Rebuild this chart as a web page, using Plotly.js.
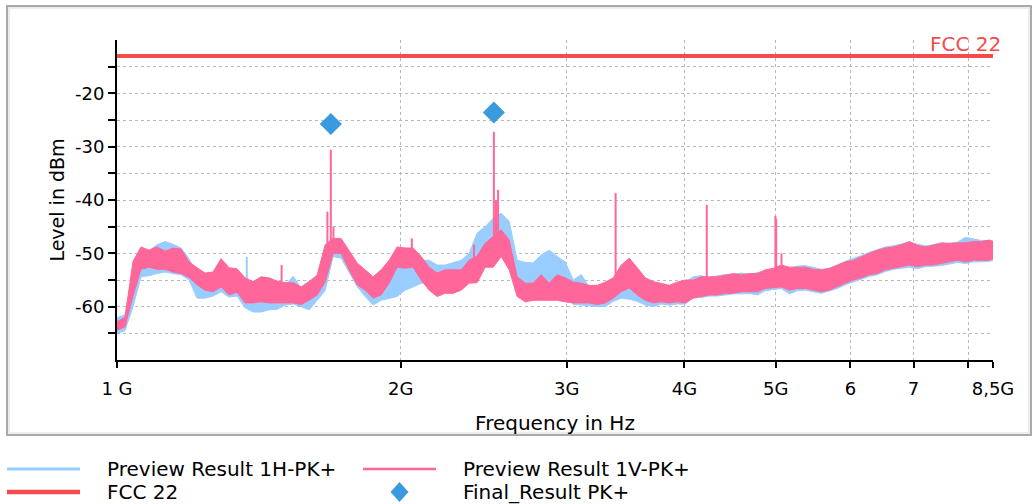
<!DOCTYPE html>
<html><head><meta charset="utf-8">
<script src="https://cdn.plot.ly/plotly-3.0.1.min.js"></script>
<style>html,body{margin:0;padding:0;background:#fff;overflow:hidden}#chart{width:1032px;height:504px}</style>
</head><body><div id="chart"></div>
<script>
// ---------- data (frequency in GHz, level in dBm) ----------
const freqGHz = [
1.0000,1.0197,1.0399,1.0604,1.0814,1.1027,1.1245,1.1467,1.1694,1.1925,
1.2160,1.2400,1.2645,1.2895,1.3150,1.3409,1.3674,1.3944,1.4219,1.4500,
1.4786,1.5078,1.5376,1.5680,1.5989,1.6305,1.6627,1.6955,1.7290,1.7631,
1.7979,1.8334,1.8696,1.9065,1.9442,1.9826,2.0217,2.0616,2.1023,2.1438,
2.1862,2.2293,2.2733,2.3182,2.3640,2.4107,2.4583,2.5068,2.5563,2.6068,
2.6583,2.7108,2.7643,2.8189,2.8745,2.9313,2.9892,3.0482,3.1084,3.1698,
3.2324,3.2962,3.3613,3.4277,3.4954,3.5644,3.6348,3.7065,3.7797,3.8544,
3.9305,4.0081,4.0872,4.1679,4.2502,4.3342,4.4198,4.5070,4.5960,4.6868,
4.7793,4.8737,4.9699,5.0680,5.1681,5.2702,5.3742,5.4804,5.5886,5.6989,
5.8114,5.9262,6.0432,6.1626,6.2843,6.4084,6.5349,6.6639,6.7955,6.9297,
7.0665,7.2061,7.3484,7.4935,7.6414,7.7923,7.9462,8.1031,8.2631,8.4263,
8.5000];

// Preview Result 1H-PK+ (min / max of the trace)
const hLow = [
-65.0,-64.5,-60.0,-54.4,-54.2,-53.8,-53.5,-53.8,-54.0,-55.0,
-58.4,-58.4,-58.0,-57.2,-58.2,-58.0,-60.2,-61.0,-61.0,-60.6,
-60.5,-59.7,-59.5,-60.0,-60.6,-58.8,-57.0,-50.6,-50.9,-53.5,
-56.2,-58.1,-59.7,-58.8,-58.4,-58.1,-56.9,-56.3,-55.6,-55.6,
-55.4,-55.0,-54.9,-54.4,-53.8,-52.6,-49.4,-49.4,-50.0,-49.4,
-57.5,-57.5,-57.0,-56.5,-56.5,-57.0,-57.5,-59.6,-59.7,-59.8,
-60.0,-60.0,-59.0,-58.4,-58.6,-59.0,-59.7,-60.0,-59.5,-59.7,
-59.5,-59.5,-58.1,-58.3,-58.0,-58.0,-57.8,-57.6,-57.6,-57.5,
-57.8,-57.0,-56.8,-56.6,-57.6,-57.0,-56.9,-57.2,-57.5,-57.0,
-56.6,-55.9,-55.4,-54.8,-54.3,-54.0,-53.4,-53.0,-52.8,-52.6,
-52.9,-52.5,-52.4,-52.3,-52.0,-51.7,-51.9,-51.6,-51.6,-51.5,
-51.4];
const hHigh = [
-62.1,-61.5,-53.5,-50.0,-49.5,-48.4,-47.8,-48.3,-49.0,-51.0,
-53.8,-55.0,-54.8,-54.5,-54.0,-54.8,-55.0,-56.0,-56.5,-56.0,
-56.2,-56.0,-54.3,-56.5,-56.0,-55.0,-49.5,-48.5,-48.1,-50.0,
-52.5,-54.4,-55.6,-55.0,-54.4,-52.4,-52.3,-52.0,-51.3,-51.3,
-52.2,-52.2,-51.8,-51.3,-50.0,-46.2,-45.0,-43.4,-42.5,-44.0,
-51.3,-51.7,-51.8,-50.3,-49.4,-50.6,-51.6,-55.0,-54.0,-56.3,
-56.5,-56.2,-55.5,-55.0,-55.2,-55.5,-55.4,-56.0,-56.0,-56.3,
-55.8,-55.4,-54.4,-54.2,-54.6,-54.2,-54.0,-54.0,-53.7,-54.0,
-53.6,-53.4,-53.0,-52.6,-52.8,-52.4,-52.3,-52.6,-53.0,-52.9,
-52.3,-51.5,-51.0,-50.4,-49.8,-49.3,-48.8,-48.6,-48.2,-47.9,
-48.3,-48.6,-48.4,-48.0,-48.2,-47.9,-47.0,-47.3,-47.6,-47.6,
-47.7];

// Preview Result 1V-PK+ (min / max of the trace)
const vLow = [
-64.4,-63.8,-58.0,-53.0,-52.6,-53.0,-53.0,-53.5,-53.8,-54.5,
-55.9,-56.9,-57.2,-56.3,-57.8,-57.3,-59.3,-59.3,-59.1,-59.3,
-59.3,-59.3,-59.3,-59.6,-58.8,-57.8,-55.4,-50.0,-50.0,-53.1,
-55.9,-56.9,-58.4,-57.8,-55.6,-52.6,-52.8,-52.6,-55.0,-56.9,
-58.1,-57.5,-57.5,-56.9,-55.6,-55.5,-52.6,-52.6,-50.6,-53.1,
-58.1,-59.1,-58.8,-58.8,-58.8,-58.8,-59.1,-59.3,-59.3,-59.3,
-59.6,-59.3,-58.4,-57.2,-56.5,-57.8,-58.8,-59.3,-59.1,-59.3,
-59.1,-59.3,-58.4,-58.1,-57.8,-57.8,-57.5,-57.5,-57.2,-57.2,
-57.2,-56.6,-56.5,-56.3,-56.9,-56.6,-56.6,-56.9,-57.2,-56.9,
-56.3,-55.6,-55.0,-54.6,-54.0,-53.8,-53.1,-52.8,-52.5,-52.2,
-52.5,-52.2,-52.2,-51.9,-51.6,-51.3,-51.6,-51.3,-51.3,-51.3,
-51.0];
const vHigh = [
-62.8,-62.0,-51.5,-48.8,-49.4,-48.8,-49.6,-49.0,-49.2,-51.6,
-52.7,-53.7,-53.5,-51.0,-52.7,-52.9,-54.6,-55.3,-54.4,-54.6,
-55.2,-55.5,-55.5,-56.3,-55.3,-54.1,-48.4,-47.2,-47.2,-49.4,
-51.8,-53.1,-54.4,-53.1,-51.3,-48.8,-49.0,-49.0,-50.6,-52.6,
-53.7,-53.1,-53.1,-53.1,-51.3,-50.5,-48.1,-46.9,-45.6,-47.5,
-54.4,-55.6,-55.6,-54.0,-55.6,-54.0,-54.6,-55.4,-55.6,-56.0,
-56.0,-55.4,-54.6,-52.2,-50.9,-52.7,-54.6,-55.3,-55.6,-56.0,
-55.4,-55.0,-55.0,-54.4,-54.4,-54.4,-54.1,-53.8,-54.0,-53.8,
-53.8,-53.1,-52.8,-52.2,-52.6,-52.6,-52.6,-53.0,-53.1,-52.8,
-52.2,-51.6,-51.3,-50.6,-50.0,-49.4,-49.0,-48.8,-48.4,-47.8,
-48.5,-48.8,-48.5,-48.1,-48.1,-48.1,-48.0,-47.8,-47.8,-47.5,
-47.8];

// narrow spikes
const hSpikeFreq = [1.373];
const hSpikeBase = [-56.0];
const hSpikePeak = [-50.7];
const vSpikeFreq = [1.495, 1.672, 1.686, 1.697, 2.055, 2.392, 2.511, 2.524, 2.537, 3.381, 4.224, 4.995, 5.005, 5.070];
const vSpikeBase = [-56.0, -49.0, -48.0, -48.0, -50.0, -53.0, -47.0, -47.0, -47.0, -55.0, -55.0, -53.0, -53.0, -53.0];
const vSpikePeak = [-52.2, -42.2, -30.6, -45.0, -47.2, -48.4, -27.2, -40.0, -38.1, -38.7, -40.9, -43.0, -43.5, -50.0];

// limit line
const fccFreq = [1.0, 8.5];
const fccLimit = -13;
const fccName = 'FCC 22';

// final results
const finalFreq = [1.686, 2.511];
const finalLevel = [-25.75, -23.6];

// series names
const nameH = 'Preview Result 1H-PK+';
const nameV = 'Preview Result 1V-PK+';
const nameFinal = 'Final_Result PK+';

// ticks
const xTickVals = [1, 2, 3, 4, 5, 6, 7, 8, 8.5];
const xTickText = ['1 G', '2G', '3G', '4G', '5G', '6', '7', '', '8,5G'];
const yTickVals = [-65, -60, -55, -50, -45, -40, -35, -30, -25, -20, -15];
const yTickText = ['', '-60', '', '-50', '', '-40', '', '-30', '', '-20', ''];

// ---------- build traces ----------
function band(f, lo, hi) {
  const x = f.concat(f.slice().reverse());
  const y = hi.concat(lo.slice().reverse());
  return {x, y};
}
function spikes(f, base, peak) {
  const x = [], y = [];
  f.forEach((v, i) => { x.push(v, v, null); y.push(base[i], peak[i], null); });
  return {x, y};
}
const BLUE = '#99ccff', PINK = '#ff6699', RED = '#f54b4b', DIAM = '#3a9ae0';
const hb = band(freqGHz, hLow, hHigh), vb = band(freqGHz, vLow, vHigh);
const hs = spikes(hSpikeFreq, hSpikeBase, hSpikePeak), vs = spikes(vSpikeFreq, vSpikeBase, vSpikePeak);

const traces = [
  {x: hb.x, y: hb.y, type: 'scatter', mode: 'lines', fill: 'toself', fillcolor: BLUE,
   line: {color: BLUE, width: 1}, name: nameH, showlegend: false, hoverinfo: 'skip'},
  {x: hs.x, y: hs.y, type: 'scatter', mode: 'lines', line: {color: BLUE, width: 2},
   name: nameH, showlegend: false},
  {x: vb.x, y: vb.y, type: 'scatter', mode: 'lines', fill: 'toself', fillcolor: PINK,
   line: {color: PINK, width: 1}, name: nameV, showlegend: false, hoverinfo: 'skip'},
  {x: vs.x, y: vs.y, type: 'scatter', mode: 'lines', line: {color: PINK, width: 2},
   name: nameV, showlegend: false},
  {x: fccFreq, y: fccFreq.map(() => fccLimit), type: 'scatter', mode: 'lines',
   line: {color: RED, width: 4}, name: fccName, showlegend: false},
  {x: finalFreq, y: finalLevel, type: 'scatter', mode: 'markers',
   marker: {symbol: 'diamond', size: 17, color: DIAM, line: {width: 0}}, name: nameFinal, showlegend: false}
];

// ---------- layout (margins 0, plot area placed with axis domains) ----------
const FW = 1032, FH = 504;
const PL = 117, PR = 993, PT = 40, PB = 360;     // plot area in pixels
const px = v => v / FW;
const py = v => 1 - v / FH;
const xRange = [0, Math.log10(8.5)];
const FONT = 'DejaVu Sans';
const gridStyle = {showgrid: true, gridcolor: '#b8b8b8', griddash: 'dot', gridwidth: 1};

// legend (drawn below the frame, two columns x two rows)
const legendItems = [
  {label: nameH,     kind: 'line',    color: BLUE, width: 3,   col: 0, row: 0},
  {label: nameV,     kind: 'line',    color: PINK, width: 2.5, col: 1, row: 0},
  {label: fccName,   kind: 'line',    color: RED,  width: 4.5, col: 0, row: 1},
  {label: nameFinal, kind: 'diamond', color: DIAM, width: 0,   col: 1, row: 1}
];
const legCols = [7, 363], legRows = [469, 492], legSym = 73, legText = 99;
const legShapes = [], legAnns = [];
legendItems.forEach(it => {
  const x0 = legCols[it.col], yc = legRows[it.row];
  if (it.kind === 'line') {
    legShapes.push({type: 'line', xref: 'paper', yref: 'paper', x0: px(x0), x1: px(x0 + legSym),
      y0: py(yc), y1: py(yc), line: {color: it.color, width: it.width}});
  } else {
    const cx = x0 + legSym / 2, hw = 9, hh = 10;
    legShapes.push({type: 'path', xref: 'paper', yref: 'paper',
      path: `M${px(cx)},${py(yc - hh)} L${px(cx + hw)},${py(yc)} L${px(cx)},${py(yc + hh)} L${px(cx - hw)},${py(yc)} Z`,
      fillcolor: it.color, line: {width: 0}});
  }
  legAnns.push({xref: 'paper', yref: 'paper', x: px(x0 + legText - 1), y: py(yc), xanchor: 'left', yanchor: 'middle',
    text: it.label, showarrow: false, font: {family: FONT, size: 20, color: '#000'}});
});

const layout = {
  width: FW, height: FH,
  margin: {l: 0, r: 0, t: 0, b: 0, pad: 0},
  paper_bgcolor: '#ffffff', plot_bgcolor: '#ffffff',
  font: {family: FONT, size: 18, color: '#000'},
  showlegend: false,
  xaxis: Object.assign({
    domain: [px(PL), px(PR)],
    type: 'log', range: xRange, tickmode: 'array', tickvals: xTickVals, ticktext: xTickText,
    ticks: 'outside', ticklen: 6, tickwidth: 2, tickcolor: '#000',
    showline: true, linecolor: '#000', linewidth: 2, zeroline: false,
    tickfont: {family: FONT, size: 18, color: '#000'}, ticklabelstandoff: 5,
    title: {text: '\u00a0\u00a0\u00a0Frequency in Hz', font: {family: FONT, size: 20, color: '#000'}, standoff: 18},
    automargin: false
  }, gridStyle),
  xaxis2: {
    domain: [px(PL), px(PR)],
    type: 'log', range: xRange, overlaying: 'x', anchor: 'y', side: 'bottom',
    tickmode: 'array', tickvals: xTickVals, ticks: 'inside', ticklen: 6, tickwidth: 2, tickcolor: '#000',
    showticklabels: false, showgrid: false, showline: false, zeroline: false
  },
  yaxis: Object.assign({
    domain: [py(PB), py(PT)],
    range: [-70, -10], tickmode: 'array', tickvals: yTickVals, ticktext: yTickText,
    ticks: 'outside', ticklen: 7, tickwidth: 2, tickcolor: '#000',
    showline: true, linecolor: '#000', linewidth: 2, zeroline: false,
    tickfont: {family: FONT, size: 18, color: '#000'}, ticklabelstandoff: 0,
    title: {text: 'Level in dBm', font: {family: FONT, size: 19, color: '#000'}, standoff: 5},
    automargin: false
  }, gridStyle),
  yaxis2: {
    domain: [py(PB), py(PT)],
    range: [-70, -10], overlaying: 'y', anchor: 'x', side: 'left',
    tickmode: 'array', tickvals: yTickVals, ticks: 'inside', ticklen: 7, tickwidth: 2, tickcolor: '#000',
    showticklabels: false, showgrid: false, showline: false, zeroline: false
  },
  annotations: [{
    xref: 'paper', yref: 'paper', x: px(1003), y: py(44), xanchor: 'right', yanchor: 'middle',
    text: fccName, showarrow: false, font: {family: FONT, size: 20, color: RED}
  }].concat(legAnns),
  shapes: [
    {type: 'rect', xref: 'paper', yref: 'paper', x0: px(7), x1: px(1031), y0: py(435), y1: py(6),
     line: {color: '#a9a9a9', width: 2}, layer: 'below'},
    {type: 'rect', xref: 'paper', yref: 'paper', x0: px(9), x1: px(1029), y0: py(433), y1: py(8),
     line: {color: '#ececec', width: 2}, layer: 'below'}
  ].concat(legShapes)
};

Plotly.newPlot('chart', traces, layout, {staticPlot: true, displayModeBar: false});
</script>
</body></html>
